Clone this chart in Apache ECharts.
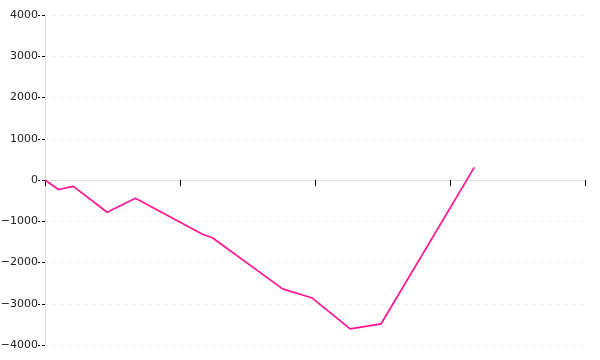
<!DOCTYPE html>
<html>
<head>
<meta charset="utf-8">
<script src="https://cdn.jsdelivr.net/npm/echarts@6/dist/echarts.min.js"></script>
<style>html,body{margin:0;padding:0;background:#fff}#c{width:600px;height:360px}</style>
</head>
<body>
<div id="c"></div>
<script>
var xValues = [0, 1, 2.1, 4.6, 6.7, 11.7, 12.4, 17.6, 19.8, 22.6, 24.9, 31.8];
var yValues = [0, -230, -155, -782, -444, -1320, -1400, -2640, -2862, -3608, -3486, 306];
var yTicks = [-4000, -3000, -2000, -1000, 0, 1000, 2000, 3000, 4000];

var data = xValues.map(function (x, i) { return [x, yValues[i]]; });
var chart = echarts.init(document.getElementById('c'), null, {renderer: 'canvas'});
chart.setOption({
  animation: false,
  backgroundColor: '#fff',
  grid: {left: 45, right: 15, top: 15, bottom: 15, containLabel: false, outerBoundsMode: 'none'},
  xAxis: {
    type: 'value', min: 0, max: 40, interval: 10,
    axisLine: {onZero: true, lineStyle: {color: '#dddddd', width: 1}},
    axisTick: {show: true, length: 6, lineStyle: {color: '#000', width: 1}},
    axisLabel: {show: false},
    splitLine: {show: false}
  },
  yAxis: {
    type: 'value', min: yTicks[0], max: yTicks[yTicks.length - 1], interval: 1000,
    axisLine: {show: true, lineStyle: {color: '#dddddd', width: 1}},
    axisTick: {show: true, length: 7, lineStyle: {color: '#000', width: 1, type: [3, 2]}},
    axisLabel: {
      color: '#222', fontFamily: 'DejaVu Sans', fontSize: 11, margin: 7,
      formatter: function (v) { return String(v).replace('-', '\u2212'); }
    },
    splitLine: {show: true, lineStyle: {color: '#eeeeee', type: [3, 5]}}
  },
  series: [{
    type: 'line',
    data: data,
    showSymbol: false,
    symbol: 'none',
    lineStyle: {color: '#ff1493', width: 1.7},
    itemStyle: {color: '#ff1493'}
  }]
});
</script>
</body>
</html>
